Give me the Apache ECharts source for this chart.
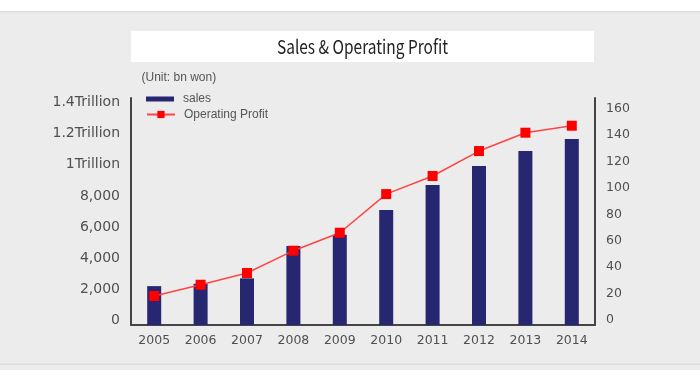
<!DOCTYPE html>
<html><head><meta charset="utf-8">
<script src="https://cdn.jsdelivr.net/npm/echarts@6/dist/echarts.min.js"></script>
<style>html,body{margin:0;padding:0;background:#ececec}#c{width:700px;height:370px}</style>
</head><body><div id="c"></div>
<script>
const years = ['2005','2006','2007','2008','2009','2010','2011','2012','2013','2014'];
const sales = [2500, 2650, 3000, 5080, 5800, 7400, 9000, 10230, 11190, 11960];
const operatingProfit = [22.0, 30.5, 39.4, 56.3, 69.9, 99.2, 112.9, 131.8, 145.7, 151.0];
const leftTickValues = [0, 2000, 4000, 6000, 8000, 10000, 12000, 14000];
const leftTickLabels = ['0','2,000','4,000','6,000','8,000','1Trillion','1.2Trillion','1.4Trillion'];
const rightTickValues = [0, 20, 40, 60, 80, 100, 120, 140, 160];
const titleText = 'Sales & Operating Profit';
const unitText = '(Unit: bn won)';

const titleFont = '19px "Noto Sans CJK KR"';
const cv = document.createElement('canvas').getContext('2d');
cv.font = titleFont;
const titleScale = 171 / cv.measureText(titleText).width;

const chart = echarts.init(document.getElementById('c'), null, {renderer: 'canvas'});
const labelFont = {fontFamily: 'DejaVu Sans', color: '#505050'};
chart.setOption({
  backgroundColor: '#ececec',
  animation: false,
  grid: {left: 131, right: 105, top: 98, bottom: 45, containLabel: false},
  legend: [
    {data: [{name: 'sales', icon: 'rect'}], left: 146, top: 93, padding: 0, itemWidth: 28, itemHeight: 5,
     textStyle: {fontFamily: 'Liberation Sans', fontSize: 12, color: '#555', padding: [3, 0, 0, 4]}},
    {data: ['Operating Profit'], left: 146, top: 108.5, padding: 0, itemWidth: 28, itemHeight: 9,
     textStyle: {fontFamily: 'Liberation Sans', fontSize: 12, color: '#555', padding: [11, 0, 0, 4]}}
  ],
  xAxis: {
    type: 'category', data: years,
    axisLine: {lineStyle: {color: '#444', width: 2}},
    axisTick: {show: false},
    axisLabel: Object.assign({fontSize: 12.5, margin: 9}, labelFont)
  },
  yAxis: [
    {type: 'value', min: 0, max: 14600, interval: 2000, position: 'left',
     splitLine: {show: false}, axisTick: {show: false},
     axisLine: {show: true, lineStyle: {color: '#444', width: 2}},
     axisLabel: Object.assign({fontSize: 14, margin: 11, verticalAlign: 'bottom', lineHeight: 9.5, showMaxLabel: false,
       formatter: v => { const i = leftTickValues.indexOf(v); return i < 0 ? '' : leftTickLabels[i]; }}, labelFont)},
    {type: 'value', min: 0, max: 172, interval: 20, position: 'right',
     splitLine: {show: false}, axisTick: {show: false},
     axisLine: {show: true, lineStyle: {color: '#444', width: 2}},
     axisLabel: Object.assign({fontSize: 12.5, margin: 11, verticalAlign: 'bottom', lineHeight: 10, showMaxLabel: false,
       formatter: v => rightTickValues.indexOf(v) < 0 ? '' : String(v)}, labelFont)}
  ],
  series: [
    {name: 'sales', type: 'bar', data: sales, yAxisIndex: 0, barWidth: 14,
     itemStyle: {color: '#262671'}},
    {name: 'Operating Profit', type: 'line', data: operatingProfit, yAxisIndex: 1,
     symbol: 'rect', symbolSize: 10, z: 5,
     itemStyle: {color: '#ff0000'}, lineStyle: {color: '#ff4444', width: 1.5}}
  ],
  graphic: [
    {type: 'rect', left: 0, top: 0, shape: {width: 700, height: 11}, style: {fill: '#ffffff'}, silent: true},
    {type: 'rect', left: 0, top: 11, shape: {width: 700, height: 1.5}, style: {fill: '#dcdcdc'}, silent: true},
    {type: 'rect', left: 0, top: 363.5, shape: {width: 700, height: 1.5}, style: {fill: '#dedede'}, silent: true},
    {type: 'rect', left: 131, top: 31, shape: {width: 463, height: 31}, style: {fill: '#ffffff'}, silent: true},
    {type: 'text', x: 362.5, y: 46.5, scaleX: titleScale, style: {text: titleText, font: titleFont, fill: '#222',
      textAlign: 'center', textVerticalAlign: 'middle'}, silent: true},
    {type: 'text', x: 141.5, y: 77.5, style: {text: unitText, font: '12px "Liberation Sans"', fill: '#555',
      textAlign: 'left', textVerticalAlign: 'middle'}, silent: true}
  ]
});
</script></body></html>
